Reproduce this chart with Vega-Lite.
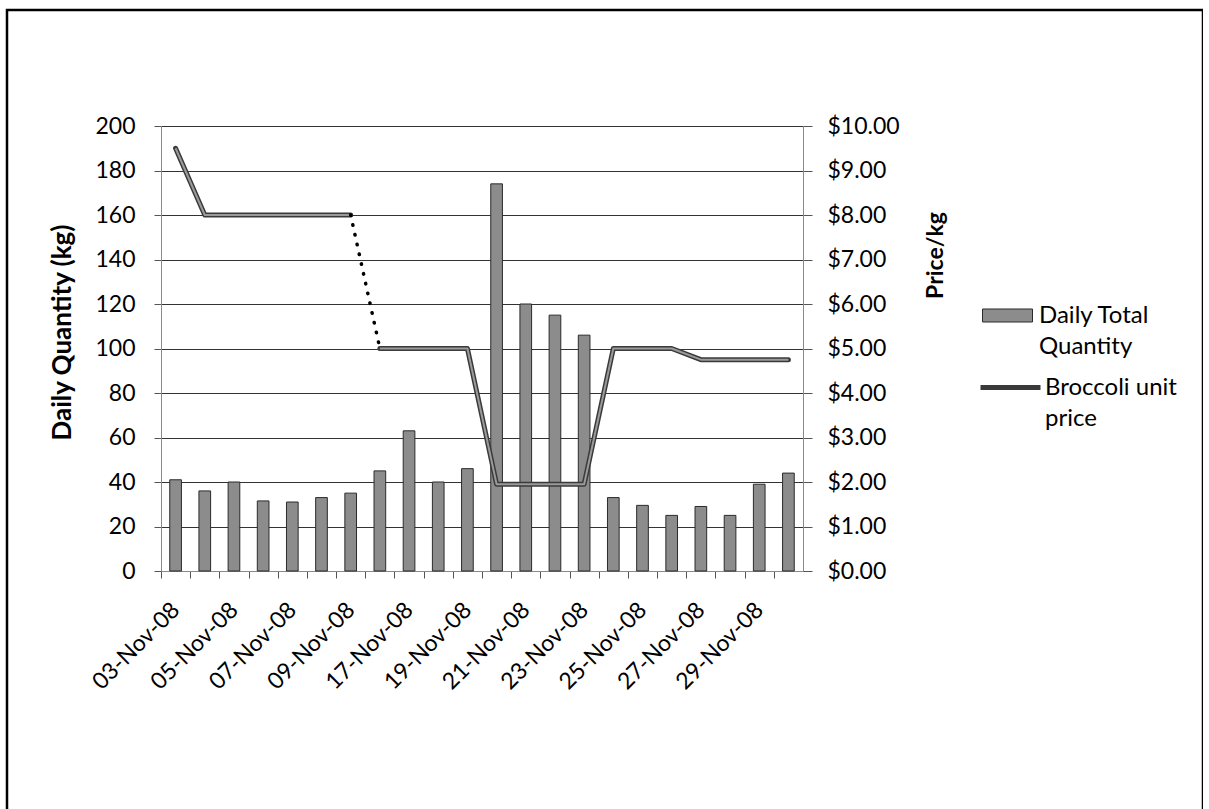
{
  "$schema": "https://vega.github.io/schema/vega-lite/v6.json",
  "width": 1196,
  "height": 812,
  "autosize": {"type": "none"},
  "padding": {"left": 7, "top": 10, "right": 0, "bottom": 0},
  "background": "white",
  "config": {
    "view": {"stroke": "#000000", "strokeWidth": 2.5},
    "font": "Lato",
    "axis": {
      "labelFont": "Lato",
      "labelFontSize": 23,
      "labelColor": "#000000",
      "titleFont": "Lato",
      "titleFontSize": 26,
      "titleFontWeight": "bold",
      "titleColor": "#000000",
      "domainColor": "#8a8a8a",
      "domainWidth": 1,
      "tickColor": "#555555"
    },
    "legend": {
      "labelFont": "Lato",
      "labelFontSize": 24,
      "labelColor": "#000000",
      "padding": 0
    }
  },
  "data": {
    "values": [
      {"date": "03-Nov-08", "qty": 41, "price": 9.5, "block": "early"},
      {"date": "04-Nov-08", "qty": 36, "price": 8.0, "block": "early"},
      {"date": "05-Nov-08", "qty": 40, "price": 8.0, "block": "early"},
      {"date": "06-Nov-08", "qty": 31.5, "price": 8.0, "block": "early"},
      {"date": "07-Nov-08", "qty": 31, "price": 8.0, "block": "early"},
      {"date": "08-Nov-08", "qty": 33, "price": 8.0, "block": "early"},
      {"date": "09-Nov-08", "qty": 35, "price": 8.0, "block": "early"},
      {"date": "16-Nov-08", "qty": 45, "price": 5.0, "block": "late"},
      {"date": "17-Nov-08", "qty": 63, "price": 5.0, "block": "late"},
      {"date": "18-Nov-08", "qty": 40, "price": 5.0, "block": "late"},
      {"date": "19-Nov-08", "qty": 46, "price": 5.0, "block": "late"},
      {"date": "20-Nov-08", "qty": 174, "price": 1.95, "block": "late"},
      {"date": "21-Nov-08", "qty": 120, "price": 1.95, "block": "late"},
      {"date": "22-Nov-08", "qty": 115, "price": 1.95, "block": "late"},
      {"date": "23-Nov-08", "qty": 106, "price": 1.95, "block": "late"},
      {"date": "24-Nov-08", "qty": 33, "price": 5.0, "block": "late"},
      {"date": "25-Nov-08", "qty": 29.5, "price": 5.0, "block": "late"},
      {"date": "26-Nov-08", "qty": 25, "price": 5.0, "block": "late"},
      {"date": "27-Nov-08", "qty": 29, "price": 4.75, "block": "late"},
      {"date": "28-Nov-08", "qty": 25, "price": 4.75, "block": "late"},
      {"date": "29-Nov-08", "qty": 39, "price": 4.75, "block": "late"},
      {"date": "30-Nov-08", "qty": 44, "price": 4.75, "block": "late"}
    ]
  },
  "encoding": {
    "x": {
      "field": "date",
      "type": "ordinal",
      "scale": {"range": [154, 796], "paddingInner": 0.6, "paddingOuter": 0.3},
      "axis": {
        "title": null,
        "orient": "bottom",
        "offset": -251,
        "labelAngle": -45,
        "labelAlign": "right",
        "labelBaseline": "middle",
        "labelPadding": 28,
        "tickSize": 7,
        "tickOffset": -14.59,
        "labelOffset": 14.59,
        "labelOverlap": false,
        "grid": false,
        "labelExpr": "toNumber(slice(datum.value, 0, 2)) % 2 == 1 ? datum.value : ''"
      }
    }
  },
  "layer": [
    {
      "mark": {"type": "bar", "stroke": "#2b2b2b", "strokeWidth": 1},
      "encoding": {
        "y": {
          "field": "qty",
          "type": "quantitative",
          "scale": {"domain": [0, 200], "range": [561, 116], "nice": false},
          "axis": {
            "title": "Daily Quantity (kg)",
            "orient": "left",
            "offset": -154,
            "values": [0, 20, 40, 60, 80, 100, 120, 140, 160, 180, 200],
            "format": "d",
            "tickSize": 7,
            "labelPadding": 19,
            "grid": true,
            "gridColor": "#333333",
            "gridWidth": 1,
            "titleAngle": -90,
            "titleX": -99,
            "titleY": 322,
            "titleAlign": "center",
            "titleBaseline": "middle"
          }
        },
        "fill": {
          "datum": "Daily Total Quantity",
          "scale": {"range": ["#8c8c8c"]},
          "legend": {
            "orient": "none",
            "legendX": 975,
            "legendY": 280,
            "title": null,
            "symbolType": "M-1,-0.26H1V0.26H-1Z",
            "symbolSize": 2500,
            "symbolStrokeColor": "#2b2b2b",
            "symbolStrokeWidth": 1,
            "symbolOpacity": 1,
            "labelOffset": 6,
            "labelExpr": "['Daily Total', 'Quantity']",
            "encode": {"labels": {"update": {"lineHeight": {"value": 31}}}}
          }
        }
      }
    },
    {
      "encoding": {
        "y": {
          "field": "price",
          "type": "quantitative",
          "scale": {"domain": [0, 10], "range": [561, 116], "nice": false},
          "axis": {
            "title": "Price/kg",
            "titleFontSize": 23,
            "orient": "right",
            "offset": -400,
            "values": [0, 1, 2, 3, 4, 5, 6, 7, 8, 9, 10],
            "format": "$.2f",
            "tickSize": 9,
            "labelPadding": 15,
            "grid": false,
            "titleAngle": -90,
            "titleX": 132,
            "titleY": 245,
            "titleAlign": "center",
            "titleBaseline": "middle"
          }
        }
      },
      "layer": [
        {
          "mark": {"type": "line", "strokeWidth": 5, "strokeJoin": "round", "strokeCap": "round"},
          "encoding": {
            "detail": {"field": "block"},
            "stroke": {
              "datum": "Broccoli unit price",
              "scale": {"range": ["#3a3a3a"]},
              "legend": {
                "orient": "none",
                "legendX": 971,
                "legendY": 345,
                "title": null,
                "symbolType": "M-1,0H1",
                "symbolSize": 3600,
                "symbolStrokeWidth": 5,
                "labelOffset": 2,
                "labelExpr": "['Broccoli unit', 'price']",
                "encode": {"labels": {"update": {"lineHeight": {"value": 31}}}}
              }
            }
          }
        },
        {
          "mark": {"type": "line", "strokeWidth": 2, "color": "#9a9a9a", "strokeJoin": "round"},
          "encoding": {"detail": {"field": "block"}}
        },
        {
          "transform": [{"filter": "datum.date == '09-Nov-08' || datum.date == '16-Nov-08'"}],
          "mark": {"type": "line", "strokeWidth": 3.5, "color": "#000000", "strokeCap": "round", "strokeDash": [0.5, 9.5]},
          "encoding": {}
        }
      ]
    }
  ],
  "resolve": {"scale": {"y": "independent"}, "axis": {"y": "independent"}}
}
